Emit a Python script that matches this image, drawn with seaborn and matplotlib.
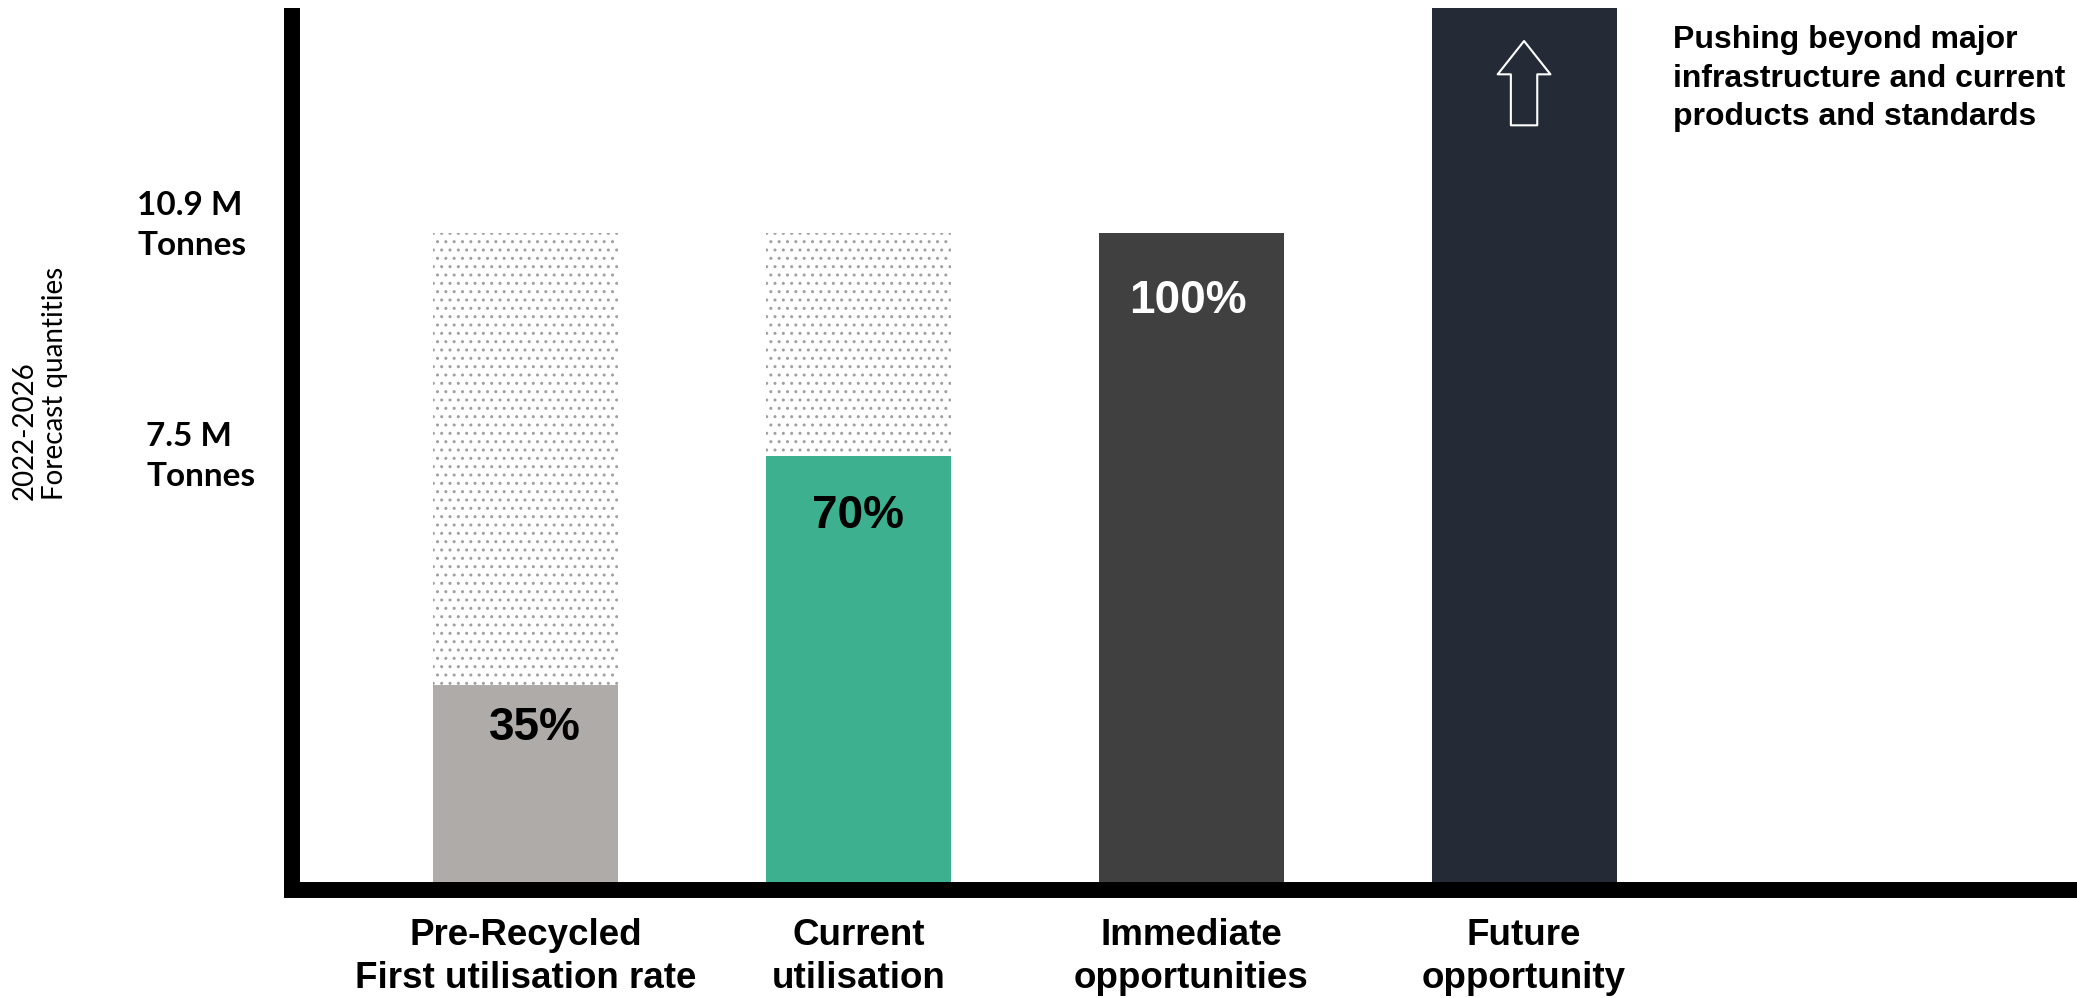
import matplotlib
matplotlib.use('Agg')
import matplotlib.pyplot as plt
import seaborn as sns
import pandas as pd
from matplotlib.transforms import ScaledTranslation

# ---------------- data ----------------
categories = ["Pre-Recycled\nFirst utilisation rate", "Current\nutilisation",
              "Immediate\nopportunities", "Future\nopportunity"]
quantities = [3.4, 7.2, 10.9, 14.63]       # M tonnes (bar heights)
capacity = [10.9, 10.9, 0.0, 0.0]          # dotted "available" background
pct_labels = ["35%", "70%", "100%", ""]
bar_colors = ["#afaba9", "#3db18f", "#404040", "#242a36"]
pct_colors = ["black", "black", "white", "white"]
ytick_values = [10.9, 7.2]
ytick_labels = ["10.9 M\nTonnes", "7.5 M\nTonnes"]
y_axis_title = "2022-2026\nForecast quantities"
note_text = "Pushing beyond major\ninfrastructure and current\nproducts and standards"

# ---------------- layout (pixels) ----------------
pct_dx = [10, 0, -3]
pct_dy = [-43, -60, -68]
ytick_dx = [-3, 6]
ytick_dy = [15, 7]

sns.set_style("white")
plt.rcParams['font.family'] = ['Liberation Sans', 'DejaVu Sans']
for k in ['text.color', 'xtick.color', 'ytick.color', 'axes.labelcolor']:
    plt.rcParams[k] = 'black'

W, H = 2077, 998
fig = plt.figure(figsize=(W / 100, H / 100), dpi=100)
ax = fig.add_axes([292 / W, 108 / H, 1 - 292 / W, 882 / H])

df_cap = pd.DataFrame({"category": categories, "value": capacity})
df = pd.DataFrame({"category": categories, "value": quantities})

sns.barplot(data=df_cap, x="category", y="value", order=categories, color="white",
            width=0.556, saturation=1, errorbar=None, linewidth=0, ax=ax)
n_bg = len(ax.patches)
for p in ax.patches:
    p.set_facecolor('white')
    p.set_hatch('..')
    p.set_edgecolor('#a0a0a0')
    p.set_linewidth(0)

sns.barplot(data=df, x="category", y="value", hue="category", order=categories,
            hue_order=categories, palette=bar_colors, width=0.556, saturation=1,
            legend=False, errorbar=None, linewidth=0, ax=ax)
for p in ax.patches[n_bg:]:
    p.set_edgecolor('none')
    p.set_linewidth(0)

for i, (lab, val) in enumerate(zip(pct_labels, quantities)):
    if lab:
        ax.annotate(lab, xy=(i, val), xytext=(pct_dx[i], pct_dy[i]),
                    textcoords='offset pixels', ha='center', va='center',
                    fontsize=33, fontweight='bold', color=pct_colors[i])

# hollow up arrow in the future bar
ax.annotate("", xy=(3, 0.9626), xycoords=('data', 'axes fraction'),
            xytext=(3, 0.867), textcoords=('data', 'axes fraction'),
            arrowprops=dict(arrowstyle="simple,head_length=24,head_width=38,tail_width=19",
                            mutation_scale=1, fc=bar_colors[3], ec='white', lw=1.5,
                            shrinkA=0, shrinkB=0))

sns.despine(ax=ax, top=True, right=True)
for s in ['left', 'bottom']:
    ax.spines[s].set_linewidth(11.5)
    ax.spines[s].set_color('black')
ax.spines['left'].set_capstyle('butt')
ax.spines['bottom'].set_capstyle('projecting')

ax.set_xlim(-0.701, 4.661)
ax.set_ylim(0, max(quantities))
ax.set_xlabel('')
ax.set_ylabel('')

ax.set_yticks(ytick_values)
ax.set_yticklabels(ytick_labels, fontfamily=['Lato', 'DejaVu Sans'], fontweight='bold',
                   fontsize=24, ha='center', multialignment='left', linespacing=1.45)
ax.tick_params(axis='y', length=0, pad=70)
for lab, dx, dy in zip(ax.get_yticklabels(), ytick_dx, ytick_dy):
    lab.set_transform(lab.get_transform() +
                      ScaledTranslation(dx / 100, dy / 100, fig.dpi_scale_trans))

ax.set_xticks(range(len(categories)))
ax.set_xticklabels(categories, fontsize=26.5, fontweight='bold', linespacing=1.3)
ax.tick_params(axis='x', length=0, pad=20)

fig.text(40 / W, 1 - 383 / H, y_axis_title, rotation=90, ha='center', va='center',
         multialignment='left', fontsize=20, family=['Lato', 'DejaVu Sans'])
fig.text(1673 / W, 1 - 25 / H, note_text, ha='left', va='top', fontsize=23,
         fontweight='bold', linespacing=1.37)

fig.savefig('out.png', dpi=100)
